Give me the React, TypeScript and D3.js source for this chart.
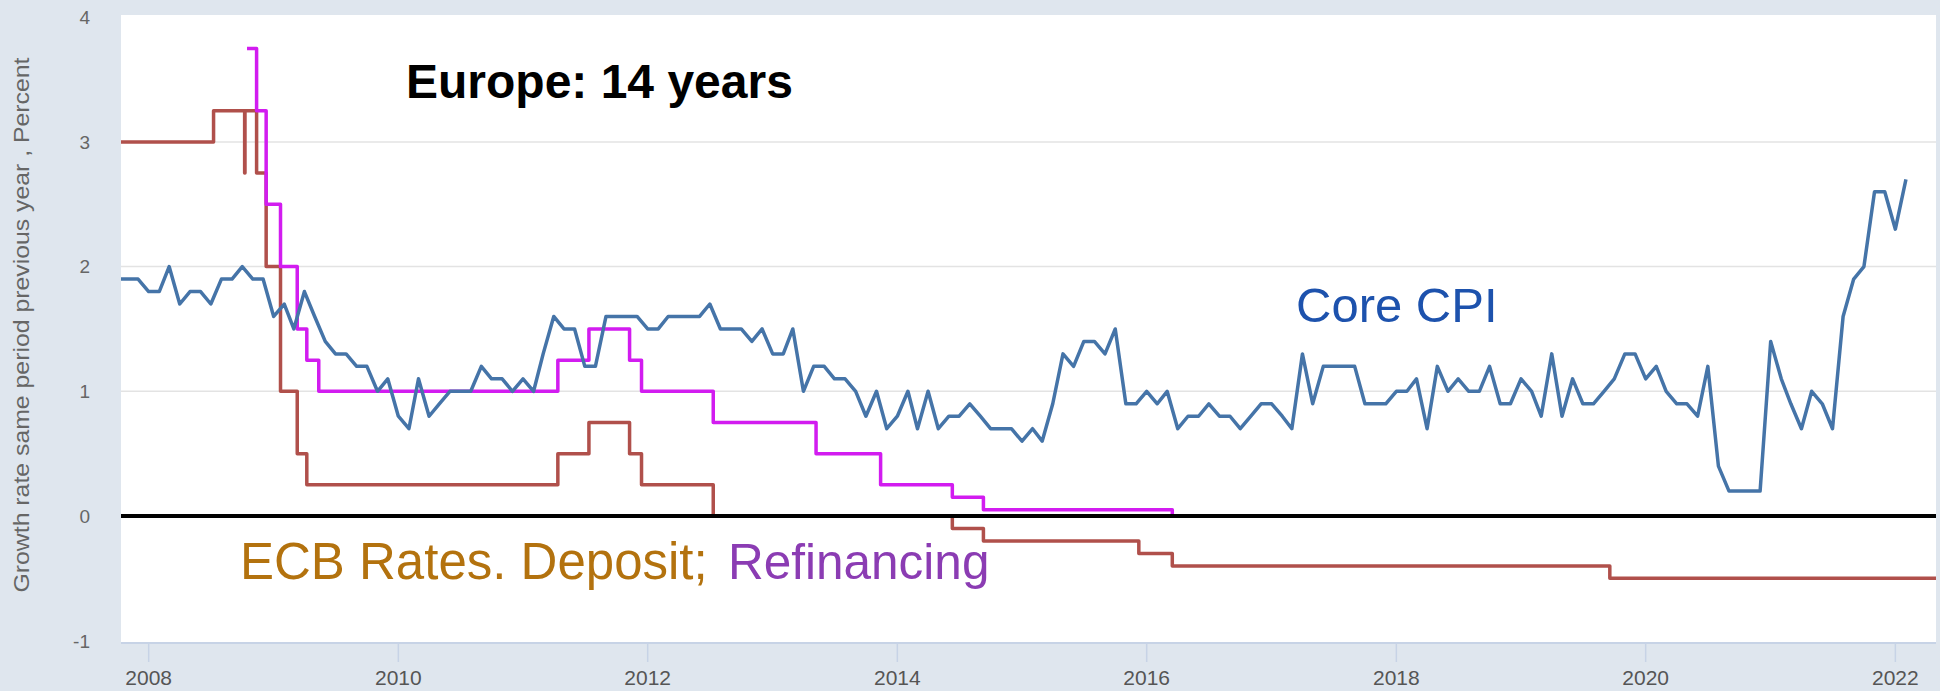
import * as d3 from 'd3';

// Core CPI, monthly, growth rate same period previous year (%), from Oct 2007
const cpiStart = new Date(2007, 9, 1);
const cpiValues = [
  1.9, 1.9, 1.9,
  1.8, 1.8, 2.0, 1.7, 1.8, 1.8, 1.7, 1.9, 1.9, 2.0, 1.9, 1.9,
  1.6, 1.7, 1.5, 1.8, 1.6, 1.4, 1.3, 1.3, 1.2, 1.2, 1.0, 1.1,
  0.8, 0.7, 1.1, 0.8, 0.9, 1.0, 1.0, 1.0, 1.2, 1.1, 1.1, 1.0,
  1.1, 1.0, 1.3, 1.6, 1.5, 1.5, 1.2, 1.2, 1.6, 1.6, 1.6, 1.6,
  1.5, 1.5, 1.6, 1.6, 1.6, 1.6, 1.7, 1.5, 1.5, 1.5, 1.4, 1.5,
  1.3, 1.3, 1.5, 1.0, 1.2, 1.2, 1.1, 1.1, 1.0, 0.8, 1.0, 0.7,
  0.8, 1.0, 0.7, 1.0, 0.7, 0.8, 0.8, 0.9, 0.8, 0.7, 0.7, 0.7,
  0.6, 0.7, 0.6, 0.9, 1.3, 1.2, 1.4, 1.4, 1.3, 1.5, 0.9, 0.9,
  1.0, 0.9, 1.0, 0.7, 0.8, 0.8, 0.9, 0.8, 0.8, 0.7, 0.8, 0.9,
  0.9, 0.8, 0.7, 1.3, 0.9, 1.2, 1.2, 1.2, 1.2, 0.9, 0.9, 0.9,
  1.0, 1.0, 1.1, 0.7, 1.2, 1.0, 1.1, 1.0, 1.0, 1.2, 0.9, 0.9,
  1.1, 1.0, 0.8, 1.3, 0.8, 1.1, 0.9, 0.9, 1.0, 1.1, 1.3, 1.3,
  1.1, 1.2, 1.0, 0.9, 0.9, 0.8, 1.2, 0.4, 0.2, 0.2, 0.2, 0.2,
  1.4, 1.1, 0.9, 0.7, 1.0, 0.9, 0.7, 1.6, 1.9, 2.0, 2.6, 2.6,
  2.3, 2.7,
];

// ECB deposit facility rate, changes (effective dates)
const depositDates = [
  '2007-06-13', '2008-07-09', '2008-10-08', '2008-10-09', '2008-11-12', '2008-12-10',
  '2009-01-21', '2009-03-11', '2009-04-08', '2011-04-13', '2011-07-13', '2011-11-09',
  '2011-12-14', '2012-07-11', '2014-06-11', '2014-09-10', '2015-12-09', '2016-03-16',
  '2019-09-18', '2022-04-30',
];
const depositRates = [
  3.0, 3.25, 2.75, 3.25, 2.75, 2.0,
  1.0, 0.5, 0.25, 0.5, 0.75, 0.5,
  0.25, 0.0, -0.1, -0.2, -0.3, -0.4,
  -0.5, -0.5,
];

// ECB main refinancing rate (fixed rate tenders)
const refiDates = [
  '2008-10-15', '2008-11-12', '2008-12-10', '2009-01-21', '2009-03-11', '2009-04-08',
  '2009-05-13', '2011-04-13', '2011-07-13', '2011-11-09', '2011-12-14', '2012-07-11',
  '2013-05-08', '2013-11-13', '2014-06-11', '2014-09-10', '2016-03-16', '2022-04-30',
];
const refiRates = [
  3.75, 3.25, 2.5, 2.0, 1.5, 1.25,
  1.0, 1.25, 1.5, 1.25, 1.0, 0.75,
  0.5, 0.25, 0.15, 0.05, 0.0, 0.0,
];

const yTicks = [-1, 0, 1, 2, 3, 4];
const xTickYears = [2008, 2010, 2012, 2014, 2016, 2018, 2020, 2022];

const W = 1940;
const H = 691;
const FONT = "'Liberation Sans', Arial, Helvetica, sans-serif";

export default function App() {
  const left = 121;
  const right = 1936;
  const top = 15;
  const bottom = 643;

  const parse = d3.timeParse('%Y-%m-%d');
  const x = d3
    .scaleTime()
    .domain([new Date(2007, 9, 12), new Date(2022, 3, 30)])
    .range([left, right]);
  const y = d3.scaleLinear().domain([-1, 4]).range([640.7, 17.2]);

  const cpi = cpiValues.map((v, i) => ({ date: d3.timeMonth.offset(cpiStart, i), value: v }));
  const deposit = depositDates.map((d, i) => ({ date: parse(d) as Date, value: depositRates[i] }));
  const refi = refiDates.map((d, i) => ({ date: parse(d) as Date, value: refiRates[i] }));

  const line = d3
    .line<{ date: Date; value: number }>()
    .x((d) => x(d.date))
    .y((d) => y(d.value));
  const step = d3
    .line<{ date: Date; value: number }>()
    .curve(d3.curveStepAfter)
    .x((d) => x(d.date))
    .y((d) => y(d.value));

  return (
    <svg
      width={W}
      height={H}
      viewBox={`0 0 ${W} ${H}`}
      style={{ position: 'absolute', left: 0, top: 0, display: 'block' }}
      fontFamily={FONT}
    >
      <defs>
        <clipPath id="plot-clip">
          <rect x={left} y={top} width={right - left} height={bottom - top} />
        </clipPath>
      </defs>
      <rect x={0} y={0} width={W} height={H} fill="#dfe6ee" />
      <rect x={left} y={top} width={right - left} height={bottom - top} fill="#ffffff" />

      {/* grid */}
      {yTicks
        .filter((t) => t > 0 && t < 4)
        .map((t) => (
          <line key={t} x1={left} x2={right} y1={y(t)} y2={y(t)} stroke="#e3e3e3" strokeWidth={1.5} />
        ))}

      {/* x axis */}
      <line x1={left} x2={right} y1={bottom} y2={bottom} stroke="#c7d3e6" strokeWidth={2} />
      {xTickYears.map((yr) => {
        const px = x(new Date(yr, 0, 1));
        return (
          <g key={yr}>
            <line x1={px} x2={px} y1={bottom} y2={bottom + 19} stroke="#c7d3e6" strokeWidth={1.5} />
            <text x={px} y={685} textAnchor="middle" fontSize={21} fill="#555">
              {yr}
            </text>
          </g>
        );
      })}

      {/* y axis labels */}
      {yTicks.map((t) => (
        <text key={t} x={90} y={y(t)} dy="0.36em" textAnchor="end" fontSize={19} fill="#666">
          {t}
        </text>
      ))}
      <text
        transform={`translate(29,325) rotate(-90)`}
        textAnchor="middle"
        fontSize={22}
        fill="#666"
        textLength={535}
        lengthAdjust="spacingAndGlyphs"
      >
        Growth rate same period previous year , Percent
      </text>

      {/* series */}
      <g clipPath="url(#plot-clip)" fill="none" strokeLinejoin="round">
        <path d={step(deposit) ?? ''} stroke="#b0504b" strokeWidth={3.5} />
        <path d={step(refi) ?? ''} stroke="#d21cf0" strokeWidth={3.5} />
        <path d={line(cpi) ?? ''} stroke="#4574a8" strokeWidth={3.5} />
        <line x1={left} x2={right} y1={y(0)} y2={y(0)} stroke="#000" strokeWidth={4} />
      </g>

      {/* annotations */}
      <text x={406} y={98} fontSize={48} fontWeight="bold" fill="#000">
        Europe: 14 years
      </text>
      <text x={1296} y={322} fontSize={49} fill="#1d52ad">
        Core CPI
      </text>
      <text x={240} y={579} fontSize={51} fill="#b3720e">
        ECB Rates. Deposit;
      </text>
      <text x={728} y={579} fontSize={49.5} fill="#8b3cb3">
        Refinancing
      </text>
    </svg>
  );
}
